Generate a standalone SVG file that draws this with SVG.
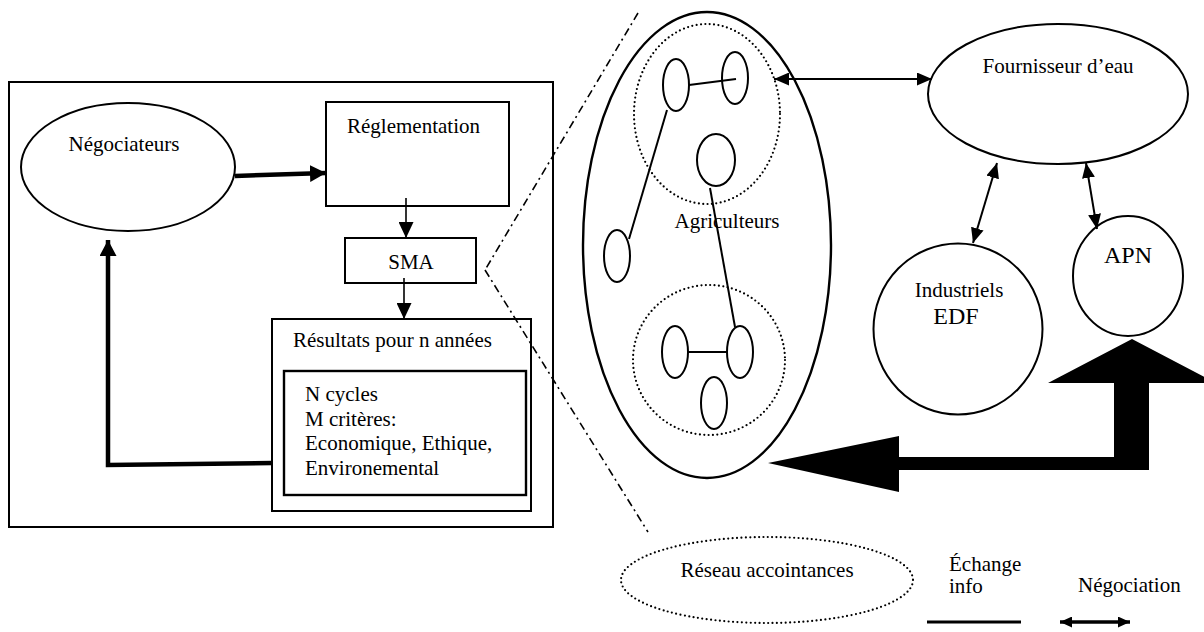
<svg xmlns="http://www.w3.org/2000/svg" width="1204" height="632" viewBox="0 0 1204 632" font-family="'Liberation Serif', 'Times New Roman', 'DejaVu Serif', serif">
<style>
text{font-family:"Liberation Serif","Times New Roman","DejaVu Serif",serif;font-size:21px;fill:#000}
.big{font-size:24px}
.s{fill:none;stroke:#000;stroke-width:2}
.dot{fill:none;stroke:#000;stroke-width:2.2;stroke-linecap:round;stroke-dasharray:0 4.4}
.thin{fill:none;stroke:#000;stroke-width:1.6}
.thick{fill:none;stroke:#000;stroke-width:4.5}
.dd{fill:none;stroke:#000;stroke-width:1.6;stroke-dasharray:8 4 2 4}
</style>
<defs>
<marker id="ah" viewBox="0 0 16 15" refX="16" refY="7.5" markerWidth="16" markerHeight="15" markerUnits="userSpaceOnUse" orient="auto-start-reverse"><path d="M0,0 L16,7.5 L0,15 z" fill="#000"/></marker>
<marker id="ahT" viewBox="0 0 16 17" refX="16" refY="8.5" markerWidth="16" markerHeight="17" markerUnits="userSpaceOnUse" orient="auto-start-reverse"><path d="M0,0 L16,8.5 L0,17 z" fill="#000"/></marker>
<marker id="ahD" viewBox="0 0 15 13" refX="15" refY="6.5" markerWidth="15" markerHeight="13" markerUnits="userSpaceOnUse" orient="auto-start-reverse"><path d="M0,0 L15,6.5 L0,13 z" fill="#000"/></marker>
<marker id="ahL" viewBox="0 0 12 11" refX="12" refY="5.5" markerWidth="12" markerHeight="11" markerUnits="userSpaceOnUse" orient="auto-start-reverse"><path d="M0,0 L12,5.5 L0,11 z" fill="#000"/></marker>
</defs>
<rect width="1204" height="632" fill="#fff"/>

<g id="cadre"><rect class="s" x="9" y="82" width="544" height="445"/></g>

<g id="negociateurs"><ellipse class="s" cx="128" cy="167" rx="107" ry="64"/><text x="124" y="151" text-anchor="middle">Négociateurs</text></g>
<g id="reglementation"><rect class="s" x="326" y="102" width="183" height="104"/><text x="347" y="133">Réglementation</text></g>
<g id="sma"><rect class="s" x="345" y="238" width="131" height="45"/><text x="411" y="269" text-anchor="middle">SMA</text></g>
<g id="resultats"><rect class="s" x="272" y="319" width="259" height="192"/><text x="293" y="347">Résultats pour n années</text>
<rect class="s" x="284" y="371" width="242" height="124" style="stroke-width:2.4"/>
<text x="305" y="401">N cycles</text><text x="305" y="426">M critères:</text><text x="305" y="450">Economique, Ethique,</text><text x="305" y="475">Environemental</text></g>

<g id="agriculteurs">
<ellipse class="s" cx="707" cy="245" rx="124" ry="233" style="stroke-width:2.4"/>
<ellipse class="dot" cx="707" cy="114" rx="73" ry="90"/>
<ellipse class="dot" cx="709" cy="360" rx="76" ry="75"/>
<ellipse class="s" cx="676" cy="85" rx="13" ry="26"/>
<ellipse class="s" cx="735" cy="78" rx="13" ry="26"/>
<ellipse class="s" cx="716" cy="160" rx="19" ry="26"/>
<ellipse class="s" cx="617" cy="256" rx="13" ry="26"/>
<ellipse class="s" cx="675" cy="352" rx="13" ry="26"/>
<ellipse class="s" cx="740" cy="352" rx="13" ry="26"/>
<ellipse class="s" cx="714" cy="403" rx="13" ry="26"/>
<text x="727" y="228" text-anchor="middle">Agriculteurs</text>
</g>
<g id="fournisseur"><ellipse class="s" cx="1058" cy="94" rx="130" ry="70"/><text x="1058" y="73" text-anchor="middle">Fournisseur d’eau</text></g>
<g id="industriels"><ellipse class="s" cx="958" cy="329" rx="84.5" ry="85.5"/><text x="959" y="297" text-anchor="middle">Industriels</text><text class="big" x="956" y="324" text-anchor="middle">EDF</text></g>
<g id="apn"><ellipse class="s" cx="1128" cy="276" rx="55" ry="60"/><text class="big" x="1128" y="263" text-anchor="middle">APN</text></g>

<g id="legende">
<ellipse class="dot" cx="767" cy="580" rx="146" ry="43"/>
<text x="767" y="577" text-anchor="middle">Réseau accointances</text>
<text x="949" y="571">Échange</text><text x="949" y="593">info</text>
<text x="1078" y="592">Négociation</text>
<line x1="927" y1="622" x2="1021" y2="622" stroke="#000" stroke-width="3"/>
<line x1="1060" y1="622" x2="1130" y2="622" stroke="#000" stroke-width="3.5" marker-start="url(#ahL)" marker-end="url(#ahL)"/>
</g>

<g id="connecteurs">
<line class="thick" x1="235" y1="176" x2="326" y2="173" marker-end="url(#ahT)"/>
<line class="thin" x1="406" y1="198" x2="406" y2="238" marker-end="url(#ah)"/>
<line class="thin" x1="404" y1="278" x2="404" y2="319" marker-end="url(#ah)"/>
<polyline class="thick" points="272,463 108,465 108,240" marker-end="url(#ahT)"/>
<line class="dd" x1="638" y1="13" x2="485" y2="270"/>
<line class="dd" x1="485" y1="270" x2="648" y2="532"/>
<line class="s" x1="689" y1="85" x2="736" y2="79"/>
<line class="s" x1="667" y1="110" x2="629" y2="239"/>
<line class="s" x1="710" y1="188" x2="735" y2="327"/>
<line class="s" x1="688" y1="352" x2="727" y2="352"/>
<line class="s" x1="774" y1="79" x2="932" y2="79" marker-start="url(#ahD)" marker-end="url(#ahD)"/>
<line class="s" x1="997" y1="163" x2="973" y2="243" marker-start="url(#ahD)" marker-end="url(#ahD)"/>
<line class="s" x1="1086" y1="163" x2="1097" y2="229" marker-start="url(#ahD)" marker-end="url(#ahD)"/>
<polygon points="768,463 899,436 899,457 1114,457 1114,383 1048,383 1132,339 1216,383 1149,383 1149,470 899,470 899,492" fill="#000"/>
</g>
</svg>
